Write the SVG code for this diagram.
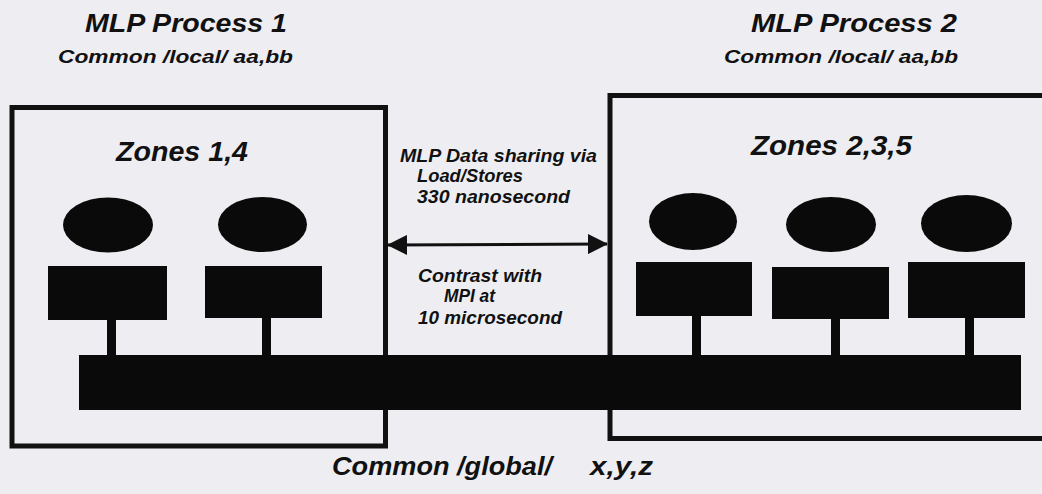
<svg xmlns="http://www.w3.org/2000/svg" width="1042" height="494" viewBox="0 0 1042 494">
<defs>
<style>
.t{font-family:"Liberation Sans",Arial,sans-serif;font-weight:bold;font-style:italic;fill:#111}
.box{fill:none;stroke:#111;stroke-width:5}
.blk{fill:#0a0a0a}
.stem{stroke:#0a0a0a;stroke-width:9}
.arr{stroke:#111;stroke-width:3;fill:none}
</style>
<marker id="ah" viewBox="0 0 20 20" refX="19" refY="10" markerWidth="20" markerHeight="20" markerUnits="userSpaceOnUse" orient="auto-start-reverse">
<path d="M0,0 L20,10 L0,20 Z" fill="#111"/>
</marker>
</defs>
<rect width="1042" height="494" fill="#eeeef2"/>

<g id="process1">
<text class="t" x="85" y="32" font-size="26" textLength="202" lengthAdjust="spacingAndGlyphs">MLP Process 1</text>
<text class="t" x="58" y="63" font-size="19" textLength="235" lengthAdjust="spacingAndGlyphs">Common /local/ aa,bb</text>
<rect class="box" x="12" y="107.5" width="373.5" height="338.5"/>
<text class="t" x="116" y="161" font-size="27" textLength="132" lengthAdjust="spacingAndGlyphs">Zones 1,4</text>
</g>

<g id="process2">
<text class="t" x="751" y="32" font-size="26" textLength="206" lengthAdjust="spacingAndGlyphs">MLP Process 2</text>
<text class="t" x="724" y="63" font-size="19" textLength="234" lengthAdjust="spacingAndGlyphs">Common /local/ aa,bb</text>
<rect class="box" x="610" y="95.5" width="440" height="343"/>
<text class="t" x="751" y="155" font-size="28" textLength="161" lengthAdjust="spacingAndGlyphs">Zones 2,3,5</text>
</g>

<g id="cpu1"><ellipse class="blk" cx="108" cy="225" rx="45" ry="27.5"/></g>
<g id="cpu4"><ellipse class="blk" cx="262.5" cy="224.5" rx="44.5" ry="27.5"/></g>
<g id="cpu2"><ellipse class="blk" cx="693" cy="221.5" rx="44" ry="28.5"/></g>
<g id="cpu3"><ellipse class="blk" cx="831" cy="224.5" rx="45" ry="27.5"/></g>
<g id="cpu5"><ellipse class="blk" cx="966.5" cy="223.5" rx="45.5" ry="28.5"/></g>

<g id="mem1"><rect class="blk" x="48" y="266" width="119" height="54"/></g>
<g id="mem4"><rect class="blk" x="205" y="266" width="117" height="52"/></g>
<g id="mem2"><rect class="blk" x="636" y="262" width="116" height="54"/></g>
<g id="mem3"><rect class="blk" x="772" y="267" width="117" height="52"/></g>
<g id="mem5"><rect class="blk" x="908" y="262" width="117" height="56"/></g>

<g id="bus"><rect class="blk" x="79" y="355" width="942" height="55"/></g>

<g id="connectors">
<line class="stem" x1="111.5" y1="318" x2="111.5" y2="357"/>
<line class="stem" x1="266.5" y1="316" x2="266.5" y2="357"/>
<line class="stem" x1="696.5" y1="314" x2="696.5" y2="357"/>
<line class="stem" x1="835.5" y1="317" x2="835.5" y2="357"/>
<line class="stem" x1="969.5" y1="316" x2="969.5" y2="357"/>
<line class="arr" x1="388" y1="245" x2="607" y2="244" marker-start="url(#ah)" marker-end="url(#ah)"/>
</g>

<g id="arrow-labels">
<text class="t" x="400" y="162" font-size="18" textLength="197" lengthAdjust="spacingAndGlyphs">MLP Data sharing via</text>
<text class="t" x="417" y="182" font-size="18" textLength="106" lengthAdjust="spacingAndGlyphs">Load/Stores</text>
<text class="t" x="417" y="203" font-size="18" textLength="153" lengthAdjust="spacingAndGlyphs">330 nanosecond</text>
<text class="t" x="418" y="282" font-size="18" textLength="124" lengthAdjust="spacingAndGlyphs">Contrast with</text>
<text class="t" x="444" y="302" font-size="18" textLength="51" lengthAdjust="spacingAndGlyphs">MPI at</text>
<text class="t" x="418" y="324" font-size="18" textLength="144" lengthAdjust="spacingAndGlyphs">10 microsecond</text>
</g>

<g id="global-label">
<text class="t" font-size="25"><tspan x="332" y="475" textLength="220" lengthAdjust="spacingAndGlyphs">Common /global/</tspan><tspan x="590" y="475" textLength="63" lengthAdjust="spacingAndGlyphs">x,y,z</tspan></text>
</g>
</svg>
